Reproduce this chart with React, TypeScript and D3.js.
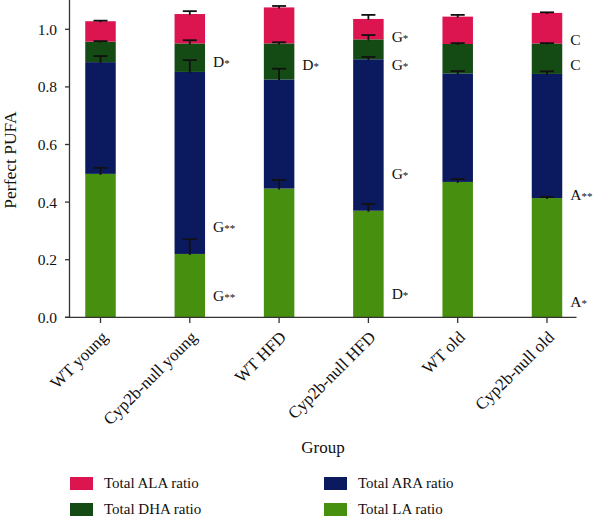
import React from "react";
import * as d3 from "d3";

const groups = ["WT young", "Cyp2b-null young", "WT HFD", "Cyp2b-null HFD", "WT old", "Cyp2b-null old"];
const seriesNames = ["Total LA ratio", "Total ARA ratio", "Total DHA ratio", "Total ALA ratio"];
const laValues = [0.498, 0.22, 0.447, 0.37, 0.47, 0.414];
const araValues = [0.388, 0.632, 0.379, 0.526, 0.377, 0.431];
const dhaValues = [0.071, 0.099, 0.125, 0.069, 0.102, 0.106];
const alaValues = [0.071, 0.102, 0.125, 0.071, 0.095, 0.106];
const laErr = [0.021, 0.051, 0.03, 0.024, 0.01, 0.004];
const araErr = [0.021, 0.041, 0.037, 0.008, 0.008, 0.009];
const dhaErr = [0.002, 0.011, 0.004, 0.015, 0.003, 0.001];
const alaErr = [0.002, 0.01, 0.005, 0.014, 0.006, 0.002];
const yTicks = [0, 0.2, 0.4, 0.6, 0.8, 1.0];
const annGroup = [1, 1, 1, 2, 3, 3, 3, 3, 5, 5, 5, 5];
const annValue = [0.887, 0.315, 0.075, 0.878, 0.974, 0.876, 0.498, 0.083, 0.963, 0.876, 0.425, 0.054];
const annLetter = ["D", "G", "G", "D", "G", "G", "G", "D", "C", "C", "A", "A"];
const annStars = ["*", "**", "**", "*", "*", "*", "*", "*", "", "", "**", "*"];

const colors: Record<string, string> = {
  "Total LA ratio": "#478f0e",
  "Total ARA ratio": "#0b1a5e",
  "Total DHA ratio": "#144a14",
  "Total ALA ratio": "#dc1450",
};

const FONT = "'Liberation Serif', 'DejaVu Serif', serif";

export default function App() {
  const W = 594, H = 516;
  const x = d3.scalePoint<string>().domain(groups).range([100.5, 547]);
  const y = d3.scaleLinear().domain([0, 1.1]).range([317.3, 0.5]);
  const barW = 30.5;

  const table = groups.map((g, i) => ({
    group: g,
    "Total LA ratio": laValues[i],
    "Total ARA ratio": araValues[i],
    "Total DHA ratio": dhaValues[i],
    "Total ALA ratio": alaValues[i],
  }));
  const errs: Record<string, number[]> = {
    "Total LA ratio": laErr,
    "Total ARA ratio": araErr,
    "Total DHA ratio": dhaErr,
    "Total ALA ratio": alaErr,
  };
  const stack = d3.stack<any>().keys(seriesNames)(table);

  const legendItems = [
    { name: "Total ALA ratio", col: 0, row: 0 },
    { name: "Total ARA ratio", col: 1, row: 0 },
    { name: "Total DHA ratio", col: 0, row: 1 },
    { name: "Total LA ratio", col: 1, row: 1 },
  ];
  const legX = [70, 324];
  const legY = [477, 503];

  return (
    <svg width={W} height={H} style={{ position: "absolute", left: 0, top: 0 }} fontFamily={FONT}>
      <rect width={W} height={H} fill="#fff" />
      {stack.map((s) => (
        <g key={s.key}>
          {s.map((d, i) => (
            <rect
              key={i}
              x={(x(groups[i]) as number) - barW / 2}
              y={y(d[1])}
              width={barW}
              height={y(d[0]) - y(d[1])}
              fill={colors[s.key]}
            />
          ))}
        </g>
      ))}
      {stack.map((s) => (
        <g key={"e" + s.key} stroke="#111" strokeWidth={1.8}>
          {s.map((d, i) => {
            const cx = x(groups[i]) as number;
            const top = y(d[1] + errs[s.key][i]);
            return (
              <g key={i}>
                <line x1={cx} x2={cx} y1={y(d[1]) + 1} y2={top} />
                <line x1={cx - 7} x2={cx + 7} y1={top} y2={top} />
              </g>
            );
          })}
        </g>
      ))}
      {/* axes */}
      <line x1={69.5} x2={69.5} y1={0} y2={317.3} stroke="#333" strokeWidth={1.3} />
      <line x1={65} x2={576.5} y1={317.3} y2={317.3} stroke="#333" strokeWidth={1.3} />
      {yTicks.map((t) => (
        <g key={t}>
          <line x1={65} x2={69.5} y1={y(t)} y2={y(t)} stroke="#333" strokeWidth={1.3} />
          <text x={57} y={y(t)} dy="0.35em" textAnchor="end" fontSize={15.5} fill="#111">
            {d3.format(".1f")(t)}
          </text>
        </g>
      ))}
      {groups.map((g) => {
        const cx = x(g) as number;
        return (
          <g key={g}>
            <line x1={cx} x2={cx} y1={317.3} y2={323} stroke="#333" strokeWidth={1.3} />
            <text
              transform={`translate(${cx + 4},${334}) rotate(-45)`}
              textAnchor="end"
              dy="0.35em"
              fontSize={17}
              fill="#111"
            >
              {g}
            </text>
          </g>
        );
      })}
      <text transform={`translate(10,160) rotate(-90)`} textAnchor="middle" dy="0.35em" fontSize={17.5} fill="#111">
        Perfect PUFA
      </text>
      <text x={323} y={447} textAnchor="middle" dy="0.35em" fontSize={17} fill="#111">
        Group
      </text>
      {annLetter.map((l, k) => (
        <text
          key={k}
          x={(x(groups[annGroup[k]]) as number) + barW / 2 + 8}
          y={y(annValue[k])}
          dy="0.35em"
          fontSize={15.5}
          fill="#111"
        >
          {l}
          {annStars[k] && <tspan fontSize={11}>{annStars[k]}</tspan>}
        </text>
      ))}
      {legendItems.map((it) => (
        <g key={it.name}>
          <rect x={legX[it.col]} y={legY[it.row]} width={23} height={13} fill={colors[it.name]} />
          <text x={legX[it.col] + 34} y={legY[it.row] + 6} dy="0.35em" fontSize={15} fill="#111">
            {it.name}
          </text>
        </g>
      ))}
    </svg>
  );
}
